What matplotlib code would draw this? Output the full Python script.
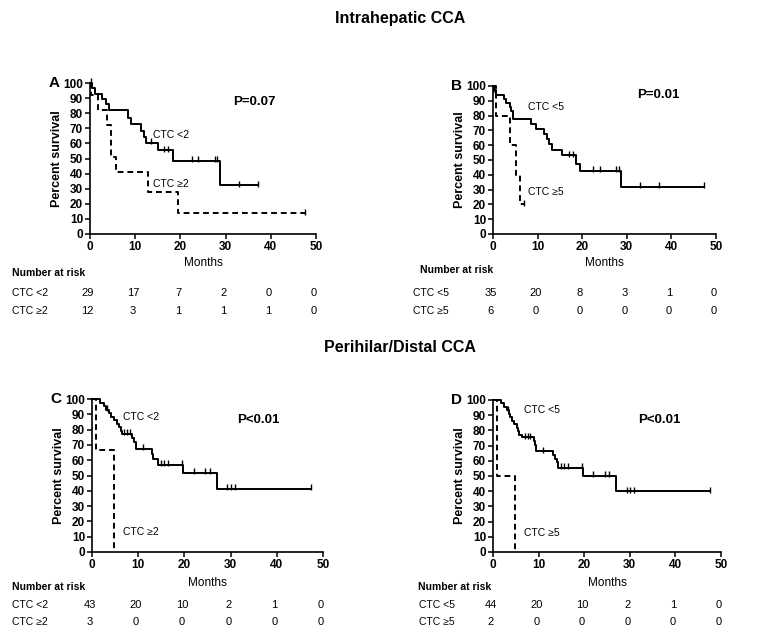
import numpy as np
import matplotlib
matplotlib.use("Agg")
import matplotlib.pyplot as plt
from matplotlib.transforms import blended_transform_factory

plt.rcParams['font.family'] = ['Liberation Sans', 'DejaVu Sans']

W, H = 764, 636

# ---- data ----
risk_months = [0, 10, 20, 30, 40, 50]

# A: intrahepatic, cut-off 2
a_lo_t = [0, 0.5, 1.0, 2.7, 3.5, 4.3, 8.5, 9.0, 11.2, 12.0, 12.3, 15.0, 18.3, 28.8, 37.2]
a_lo_s = [100, 96.5, 93, 89.7, 86, 82, 77, 73, 68.5, 64.5, 60.5, 55.5, 48.6, 32.4, 32.4]
a_lo_cens = [0.3, 13.5, 16.3, 17.3, 22.5, 24.0, 27.6, 28.2, 33.0, 37.2]
a_hi_t = [0, 0.3, 1.8, 3.7, 4.7, 5.7, 12.8, 19.5, 47.5]
a_hi_s = [100, 92, 82, 72, 51, 41, 27.5, 13.7, 13.7]
a_hi_cens = [47.5]
a_risk_lo = [29, 17, 7, 2, 0, 0]
a_risk_hi = [12, 3, 1, 1, 1, 0]

# B: intrahepatic, cut-off 5
b_lo_t = [0, 0.3, 0.7, 2.5, 3.0, 3.7, 4.1, 4.5, 8.5, 9.7, 11.5, 12.0, 12.5, 13.2,
          15.5, 18.5, 19.5, 28.8, 47.3]
b_lo_s = [100, 97, 94.2, 91.3, 88.5, 85.7, 82.8, 78, 74.5, 71, 67.5, 64, 60.7, 57,
          53.3, 47.6, 42.7, 32, 32]
b_lo_cens = [0.3, 17.0, 18.0, 22.5, 24.0, 27.5, 28.2, 33.0, 37.2, 47.3]
b_hi_t = [0, 0.6, 3.7, 5.1, 6.0, 6.9]
b_hi_s = [100, 80, 60, 40, 20, 20]
b_hi_cens = [6.9]
b_risk_lo = [35, 20, 8, 3, 1, 0]
b_risk_hi = [6, 0, 0, 0, 0, 0]

# C: perihilar/distal, cut-off 2
c_lo_t = [0, 1.8, 2.7, 3.0, 3.7, 4.2, 4.8, 5.5, 5.9, 6.2, 6.5, 8.7, 9.0, 9.5,
          13.0, 13.3, 14.3, 19.8, 27.0, 47.5]
c_lo_s = [100, 97.7, 95.3, 93, 90.7, 88.4, 86, 83.7, 81.4, 79, 77.4, 74.8, 72, 67.5,
          64.2, 60.8, 57, 51.7, 41.2, 41.2]
c_lo_cens = [3.3, 7.0, 7.6, 8.2, 11.0, 15.0, 15.6, 16.5, 19.5, 22.0, 24.5, 25.5,
             29.3, 30.0, 31.0, 47.5]
c_hi_t = [0, 0.8, 4.8]
c_hi_s = [100, 66.7, 0]
c_hi_cens = []
c_risk_lo = [43, 20, 10, 2, 1, 0]
c_risk_hi = [3, 0, 0, 0, 0, 0]

# D: perihilar/distal, cut-off 5
d_lo_t = [0, 1.8, 2.5, 3.0, 3.5, 3.8, 4.2, 4.6, 5.2, 5.5, 5.8, 6.3, 9.0, 9.3, 9.5,
          13.2, 13.5, 14.0, 14.3, 19.8, 27.0, 47.5]
d_lo_s = [100, 97.7, 95.5, 93.2, 90.9, 88.6, 86.4, 84.1, 81.8, 79.5, 77.3, 75.5,
          72.7, 70.4, 66.2, 63.7, 61.3, 59, 55.4, 50, 40, 40]
d_lo_cens = [3.3, 7.0, 7.6, 8.2, 11.0, 15.0, 15.6, 16.5, 19.5, 22.0, 24.5, 25.5,
             29.3, 30.0, 31.0, 47.5]
d_hi_t = [0, 0.8, 4.8]
d_hi_s = [100, 50, 0]
d_hi_cens = []
d_risk_lo = [44, 20, 10, 2, 1, 0]
d_risk_hi = [2, 0, 0, 0, 0, 0]


def px(x, y):
    return x / W, 1 - y / H


def step_value(t, s, x):
    i = np.searchsorted(t, x, side='right') - 1
    return np.asarray(s)[np.clip(i, 0, len(s) - 1)]


def km(ax, t, s, cens, ls):
    ax.step(t, s, where='post', color='black', lw=1.4, ls=ls, clip_on=False)
    if len(cens):
        ax.plot(cens, step_value(t, s, cens) + 1, ls='none', marker='|', ms=4,
                mew=1.0, color='black', clip_on=False)


panels = [
    dict(letter='A', box=(90, 316, 83, 234), pval='P=0.07', p_xy=(254, 102),
         lo=(a_lo_t, a_lo_s, a_lo_cens), hi=(a_hi_t, a_hi_s, a_hi_cens),
         names=('CTC <2', 'CTC \u22652'), lab_xy=(153, 135, 184),
         risk=(a_risk_lo, a_risk_hi), months_y=263, nar=(12, 273), rows=(293, 311), rx=12),
    dict(letter='B', box=(493, 716, 86, 234), pval='P=0.01', p_xy=(658, 95),
         lo=(b_lo_t, b_lo_s, b_lo_cens), hi=(b_hi_t, b_hi_s, b_hi_cens),
         names=('CTC <5', 'CTC \u22655'), lab_xy=(528, 107, 192),
         risk=(b_risk_lo, b_risk_hi), months_y=263, nar=(420, 270), rows=(293, 311), rx=413),
    dict(letter='C', box=(92, 323, 399, 552), pval='P<0.01', p_xy=(258, 420),
         lo=(c_lo_t, c_lo_s, c_lo_cens), hi=(c_hi_t, c_hi_s, c_hi_cens),
         names=('CTC <2', 'CTC \u22652'), lab_xy=(123, 417, 532),
         risk=(c_risk_lo, c_risk_hi), months_y=583, nar=(12, 587), rows=(605, 622), rx=12),
    dict(letter='D', box=(493, 721, 400, 552), pval='P<0.01', p_xy=(659, 420),
         lo=(d_lo_t, d_lo_s, d_lo_cens), hi=(d_hi_t, d_hi_s, d_hi_cens),
         names=('CTC <5', 'CTC \u22655'), lab_xy=(524, 410, 533),
         risk=(d_risk_lo, d_risk_hi), months_y=583, nar=(418, 587), rows=(605, 622), rx=419),
]

fig = plt.figure(figsize=(W / 100, H / 100), dpi=100)
fig.patch.set_facecolor('white')

fig.text(*px(400, 18), 'Intrahepatic CCA', ha='center', va='center',
         fontsize=11.5, fontweight='bold')
fig.text(*px(400, 348), 'Perihilar/Distal CCA', ha='center', va='center',
         fontsize=11.5, fontweight='bold')

for p in panels:
    x0, x1, y0, y1 = p['box']
    ax = fig.add_axes([x0 / W, 1 - y1 / H, (x1 - x0) / W, (y1 - y0) / H])
    km(ax, *p['lo'], '-')
    km(ax, *p['hi'], (0, (3, 2)))
    ax.set_xlim(0, 50)
    ax.set_ylim(0, 100)
    ax.set_xticks(range(0, 51, 10))
    ax.set_yticks(range(0, 101, 10))
    for side in ('top', 'right'):
        ax.spines[side].set_visible(False)
    for side in ('left', 'bottom'):
        ax.spines[side].set_linewidth(1.2)
    ax.tick_params(direction='out', length=3.5, width=1.1, labelsize=8.5, pad=1.5)
    for lab in ax.get_xticklabels() + ax.get_yticklabels():
        lab.set_fontweight('bold')
    ax.set_ylabel('Percent survival', fontsize=9, fontweight='bold', labelpad=0)

    fig.text(*px(x0 - 36, y0), p['letter'], fontsize=11, fontweight='bold',
             ha='center', va='center')
    fig.text(*px(*p['p_xy']), p['pval'], fontsize=9.5, fontweight='bold',
             ha='center', va='center')
    lx, ly_lo, ly_hi = p['lab_xy']
    fig.text(*px(lx, ly_lo), p['names'][0], fontsize=7.5, ha='left', va='center')
    fig.text(*px(lx, ly_hi), p['names'][1], fontsize=7.5, ha='left', va='center')

    # x label and number-at-risk table
    tr = blended_transform_factory(ax.transData, fig.transFigure)
    ax.text(25, px(0, p['months_y'])[1], 'Months', transform=tr, fontsize=8.5,
            ha='center', va='center')
    fig.text(*px(*p['nar']), 'Number at risk', fontsize=7.5, fontweight='bold',
             ha='left', va='center')
    for name, counts, ry in zip(p['names'], p['risk'], p['rows']):
        fig.text(*px(p['rx'], ry), name, fontsize=7.5, ha='left', va='center')
        for m, n in zip(risk_months, counts):
            ax.text(m - 0.5, px(0, ry)[1], str(n), transform=tr, fontsize=8,
                    ha='center', va='center')

fig.savefig('out.png', dpi=100)
